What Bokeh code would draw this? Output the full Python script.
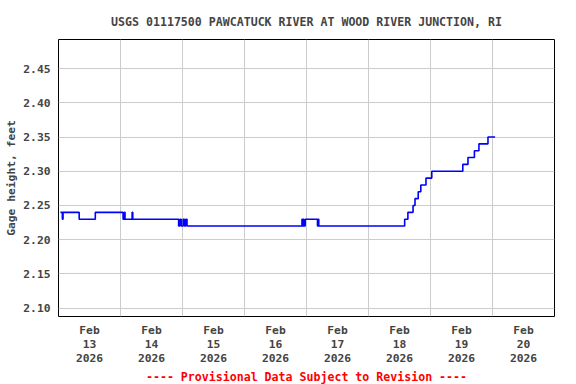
from bokeh.plotting import figure
from bokeh.models import FixedTicker, Range1d, Title, NumeralTickFormatter
from bokeh.embed import file_html
from bokeh.resources import INLINE

# Hours since 2026-02-13 00:00 at which the gage height changed, and the new value
change_hours = [0.75, 1.5, 1.75, 8.0, 14.25, 25.0, 25.5, 25.75, 28.5, 28.75,
                46.5, 47.0, 47.5, 48.25, 48.75, 49.25, 49.75,
                94.25, 94.5, 94.75, 95.0, 95.5, 100.25, 100.5, 100.75,
                134.0, 135.25, 137.25, 138.0, 139.25, 140.25, 142.25, 144.5,
                156.5, 158.5, 161.0, 162.75, 166.25, 169.0]
gage_ft = [2.24, 2.23, 2.24, 2.23, 2.24, 2.23, 2.24, 2.23, 2.24, 2.23,
           2.22, 2.23, 2.22, 2.23, 2.22, 2.23, 2.22,
           2.23, 2.22, 2.23, 2.22, 2.23, 2.22, 2.23, 2.22,
           2.23, 2.24, 2.25, 2.26, 2.27, 2.28, 2.29, 2.30,
           2.31, 2.32, 2.33, 2.34, 2.35, 2.35]

day_label_hours = [12, 36, 60, 84, 108, 132, 156, 180]
day_labels = ["Feb\n13\n2026", "Feb\n14\n2026", "Feb\n15\n2026", "Feb\n16\n2026",
              "Feb\n17\n2026", "Feb\n18\n2026", "Feb\n19\n2026", "Feb\n20\n2026"]
midnight_hours = [24, 48, 72, 96, 120, 144, 168]
y_ticks = [2.10, 2.15, 2.20, 2.25, 2.30, 2.35, 2.40, 2.45]

FONT = "DejaVu Sans Mono"

p = figure(width=576, height=384, output_backend="svg", toolbar_location=None,
           x_range=Range1d(0, 192), y_range=Range1d(2.0879, 2.4924),
           min_border_left=58, min_border_right=22, min_border_top=39, min_border_bottom=68)

p.title.text = "USGS 01117500 PAWCATUCK RIVER AT WOOD RIVER JUNCTION, RI"
p.title.align = "center"
p.title.text_font = FONT
p.title.text_font_size = "11.6px"
p.title.text_font_style = "bold"
p.title.standoff = 21

p.step(change_hours, gage_ft, mode="after", line_color="#0000ff", line_width=1.6)

p.outline_line_color = "black"
p.outline_line_width = 1
p.background_fill_color = "white"

# x axis: labels at noon, grid at midnight
p.xaxis.ticker = FixedTicker(ticks=day_label_hours)
p.xaxis.major_label_overrides = {h: t for h, t in zip(day_label_hours, day_labels)}
p.xaxis.major_tick_line_color = None
p.xaxis.major_tick_out = 0
p.xaxis.major_tick_in = 0
p.xaxis.minor_tick_line_color = None
p.xaxis.axis_line_color = None
p.xaxis.major_label_standoff = 7
p.xaxis.major_label_text_font = FONT
p.xaxis.major_label_text_font_size = "11.3px"
p.xaxis.major_label_text_font_style = "bold"
p.xaxis.major_label_text_line_height = 1.1
p.xgrid.ticker = FixedTicker(ticks=midnight_hours)
p.xgrid.grid_line_color = "#cccccc"

p.yaxis.ticker = FixedTicker(ticks=y_ticks)
p.yaxis.formatter = NumeralTickFormatter(format="0.00")
p.yaxis.major_tick_line_color = None
p.yaxis.major_tick_out = 0
p.yaxis.major_tick_in = 0
p.yaxis.minor_tick_line_color = None
p.yaxis.axis_line_color = None
p.yaxis.major_label_standoff = 8
p.yaxis.major_label_text_font = FONT
p.yaxis.major_label_text_font_size = "11.3px"
p.yaxis.major_label_text_font_style = "bold"
p.yaxis.axis_label = "Gage height, feet"
p.yaxis.axis_label_text_font = FONT
p.yaxis.axis_label_text_font_size = "11.3px"
p.yaxis.axis_label_text_font_style = "bold"
p.yaxis.axis_label_standoff = 2
p.ygrid.grid_line_color = "#cccccc"

footnote = Title(text="---- Provisional Data Subject to Revision ----", align="center",
                 vertical_align="middle",
                 text_color="#ff0000", text_font=FONT, text_font_size="11.6px",
                 text_font_style="bold", standoff=0)
p.add_layout(footnote, "below")

open("out.html", "w").write(file_html(p, INLINE))
